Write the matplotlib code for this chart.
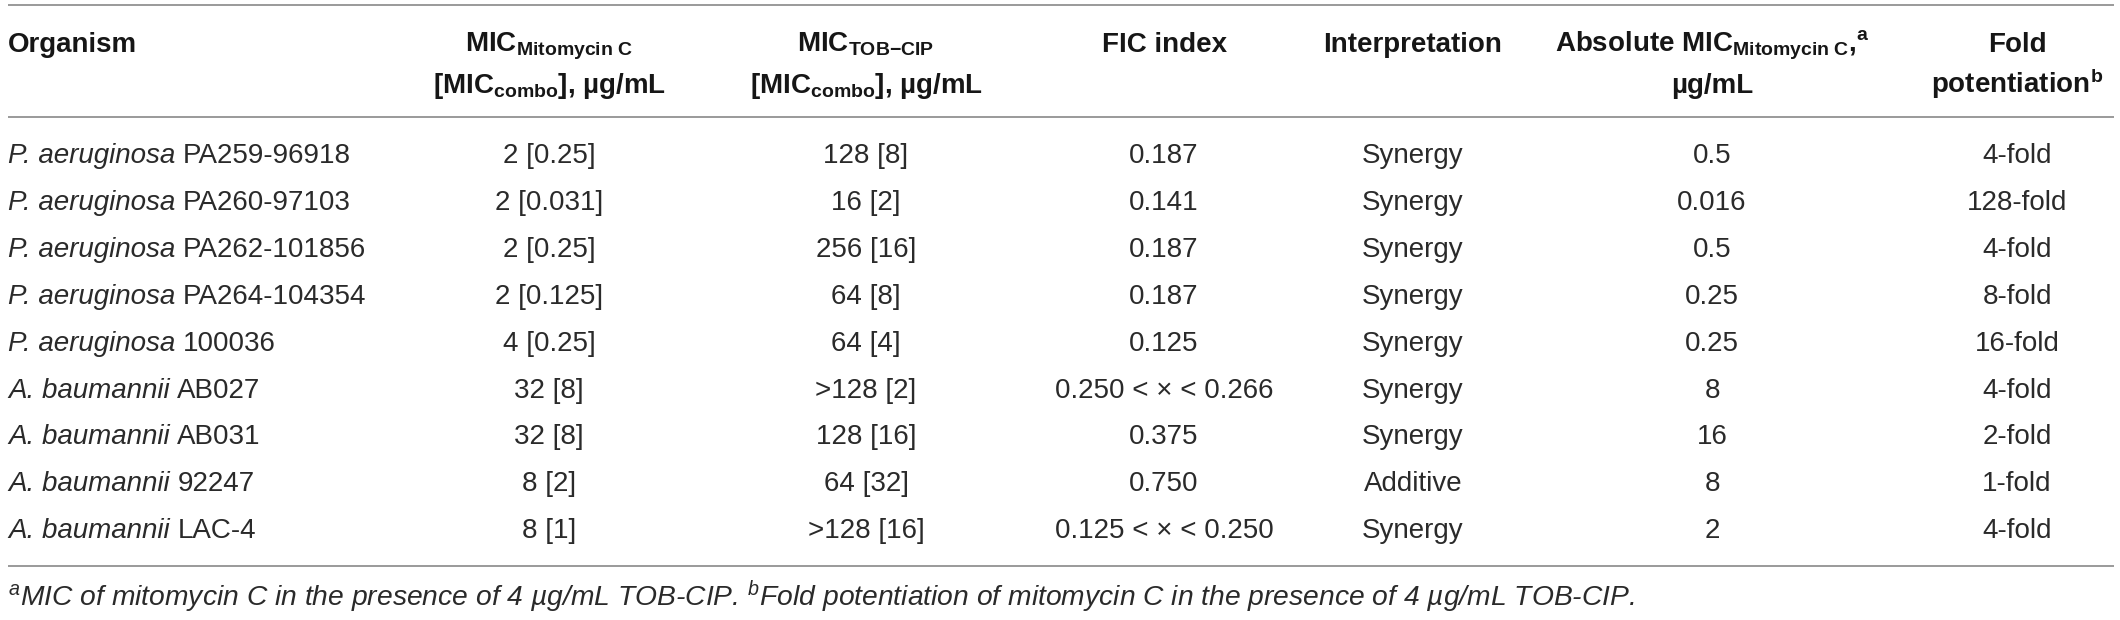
import matplotlib
matplotlib.use("Agg")
import matplotlib.pyplot as plt

plt.rcParams['font.family'] = ['Liberation Sans', 'DejaVu Sans']
plt.rcParams['mathtext.fontset'] = 'custom'
plt.rcParams['mathtext.rm'] = 'Liberation Sans'
plt.rcParams['mathtext.it'] = 'Liberation Sans:italic'
plt.rcParams['mathtext.bf'] = 'Liberation Sans:bold'
plt.rcParams['mathtext.sf'] = 'Liberation Sans'

# ---- data ----
species = ["P. aeruginosa"] * 5 + ["A. baumannii"] * 4
strains = ["PA259-96918", "PA260-97103", "PA262-101856", "PA264-104354", "100036",
           "AB027", "AB031", "92247", "LAC-4"]
mic_mito = ["2", "2", "2", "2", "4", "32", "32", "8", "8"]
mic_mito_combo = ["0.25", "0.031", "0.25", "0.125", "0.25", "8", "8", "2", "1"]
mic_tob = ["128", "16", "256", "64", "64", ">128", "128", "64", ">128"]
mic_tob_combo = ["8", "2", "16", "8", "4", "2", "16", "32", "16"]
fic_index = ["0.187", "0.141", "0.187", "0.187", "0.125",
             "0.250 < × < 0.266", "0.375", "0.750", "0.125 < × < 0.250"]
interpretation = ["Synergy", "Synergy", "Synergy", "Synergy", "Synergy",
                  "Synergy", "Synergy", "Additive", "Synergy"]
abs_mic = ["0.5", "0.016", "0.5", "0.25", "0.25", "8", "16", "8", "2"]
fold = ["4-fold", "128-fold", "4-fold", "8-fold", "16-fold",
        "4-fold", "2-fold", "1-fold", "4-fold"]

header_line1 = ["Organism",
                r"MIC$_{\mathbf{Mitomycin\ C}}$",
                r"MIC$_{\mathbf{TOB{-}CIP}}$",
                "FIC index",
                "Interpretation",
                r"Absolute MIC$_{\mathbf{Mitomycin\ C}}$,$^{\mathbf{a}}$",
                "Fold"]
header_line2 = ["",
                r"[MIC$_{\mathbf{combo}}$], µg/mL",
                r"[MIC$_{\mathbf{combo}}$], µg/mL",
                "", "",
                "µg/mL",
                r"potentiation$^{\mathbf{b}}$"]
footnote = (r"$^{\mathit{a}}$MIC of mitomycin C in the presence of 4 µg/mL TOB-CIP. "
            r"$^{\mathit{b}}$Fold potentiation of mitomycin C in the presence of 4 µg/mL TOB-CIP.")

# ---- layout ----
W, H = 2120, 620
fig = plt.figure(figsize=(W / 100, H / 100), dpi=100)
ax = fig.add_axes([0, 0, 1, 1])
ax.set_xlim(0, W)
ax.set_ylim(H, 0)
ax.axis('off')
renderer = fig.canvas.get_renderer()

col_x = [8, 549, 866, 1164, 1413, 1712, 2017]
col_ha = ['left'] + ['center'] * 6
fs = 20
head_color = '#161616'
txt_color = '#2a2a2a'
rule_color = '#9a9a9a'

# rules
for y in (5, 117, 566):
    ax.plot([8, 2114], [y, y], color=rule_color, lw=1.4, solid_capstyle='butt')

# header
for x, ha, t1, t2 in zip(col_x, col_ha, header_line1, header_line2):
    ax.text(x, 52, t1, ha=ha, va='baseline', fontsize=fs, fontweight='bold', color=head_color)
    if t2:
        ax.text(x, 93, t2, ha=ha, va='baseline', fontsize=fs, fontweight='bold', color=head_color)

# body
row0, dy = 163, 46.9
space_px = fs * 100 / 72 * 0.278
for i in range(len(strains)):
    y = row0 + i * dy
    t = ax.text(col_x[0], y, species[i], ha='left', va='baseline', fontsize=fs,
                fontstyle='italic', color=txt_color)
    bb = t.get_window_extent(renderer=renderer)
    ax.text(bb.x1 + space_px, y, strains[i], ha='left', va='baseline', fontsize=fs,
            color=txt_color)
    cells = [f"{mic_mito[i]} [{mic_mito_combo[i]}]",
             f"{mic_tob[i]} [{mic_tob_combo[i]}]",
             fic_index[i], interpretation[i], abs_mic[i], fold[i]]
    for x, ha, c in zip(col_x[1:], col_ha[1:], cells):
        ax.text(x, y, c, ha=ha, va='baseline', fontsize=fs, color=txt_color)

ax.text(8, 606, footnote, ha='left', va='baseline', fontsize=20.3, fontstyle='italic', color=txt_color)

fig.savefig("out.png", dpi=100)
